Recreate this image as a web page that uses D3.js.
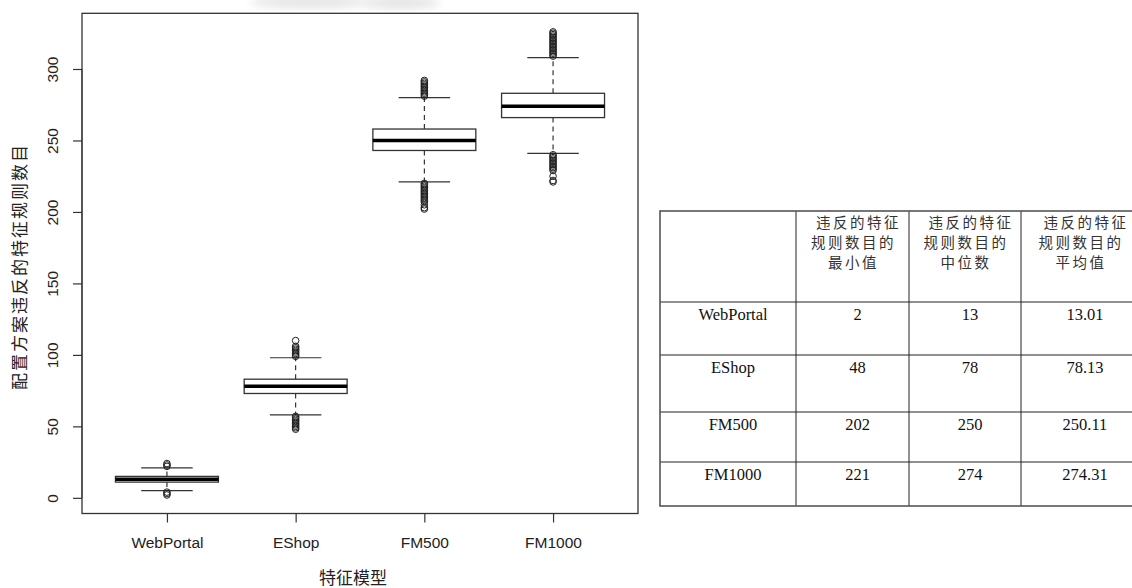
<!DOCTYPE html>
<html>
<head>
<meta charset="utf-8">
<script src="https://cdn.jsdelivr.net/npm/d3@7"></script>
<style>
  body { margin: 0; background: #fff; }
  svg { display: block; }
  .tick-lbl { font-family: "Liberation Sans", Arial, sans-serif; font-size: 15.5px; fill: #222; }
  .title { font-family: "Noto Sans CJK SC", sans-serif; font-size: 17px; fill: #222; }
  .cell { font-family: "Liberation Serif", "Times New Roman", serif; font-size: 16.5px; fill: #111; }
  .hdr { font-family: "Noto Sans CJK SC", sans-serif; font-size: 14.5px; letter-spacing: 2.5px; fill: #333; }
</style>
</head>
<body>
<svg id="chart"></svg>
<script>
// Data
const categories = ['WebPortal', 'EShop', 'FM500', 'FM1000']
const q1 = [11, 73, 243, 266]
const medians = [13, 78, 250, 274]
const q3 = [15, 83, 258, 283]
const whiskerLo = [5, 58, 221, 241]
const whiskerHi = [21, 98, 280, 308]
const outliers = [
    [2, 3, 4, 22, 23, 24],
    [48, 49, 50, 51, 52, 53, 54, 55, 56, 57, 99, 100, 101, 102, 103, 104, 105, 106, 110],
    [202, 203, 205, 207, 208, 209, 210, 211, 212, 213, 214, 215, 216, 217, 218, 219, 220,
     281, 282, 283, 284, 285, 286, 287, 288, 289, 290, 291, 292],
    [221, 222, 225, 229, 230, 231, 232, 233, 234, 235, 236, 237, 238, 239, 240,
     309, 310, 311, 312, 313, 314, 315, 316, 317, 318, 319, 320, 321, 322, 323, 324, 325, 326]
]
const yTicks = [0, 50, 100, 150, 200, 250, 300]
const xTitle = '特征模型'
const yTitle = '配置方案违反的特征规则数目'

// Table
const tblHeaders = [['违反的特征', '规则数目的', '最小值'], ['违反的特征', '规则数目的', '中位数'], ['违反的特征', '规则数目的', '平均值']]
const tblMin = ['2', '48', '202', '221']
const tblMedian = ['13', '78', '250', '274']
const tblMean = ['13.01', '78.13', '250.11', '274.31']

const W = 1132, H = 588
const plot = {left: 82, right: 638, top: 13.3, bottom: 513.5}

const svg = d3.select('#chart').attr('width', W).attr('height', H)

// faint smudge at the top (scan artefact)
const defs = svg.append('defs')
defs.append('filter').attr('id', 'blur').append('feGaussianBlur').attr('stdDeviation', 4)
const smudge = svg.append('g').attr('filter', 'url(#blur)').attr('fill', '#e4e4e4')
smudge.append('ellipse').attr('cx', 310).attr('cy', 2).attr('rx', 60).attr('ry', 6)
smudge.append('ellipse').attr('cx', 400).attr('cy', 3).attr('rx', 40).attr('ry', 6)

// Scales (R style: 4% padding)
const allVals = outliers.flat().concat(whiskerLo, whiskerHi)
const [vmin, vmax] = d3.extent(allVals)
const pad = (vmax - vmin) * 0.04
const y = d3.scaleLinear().domain([vmin - pad, vmax + pad]).range([plot.bottom, plot.top])
const x = d3.scaleLinear().domain([0.5 - 0.16, categories.length + 0.5 + 0.16]).range([plot.left, plot.right])
const step = x(2) - x(1)
const boxHalf = step * 0.4, capHalf = step * 0.2

/* Boxes */
const g = svg.append('g')
categories.forEach((c, i) => {
    const cx = x(i + 1)
    const grp = g.append('g')
    // whiskers
    grp.selectAll('.whisker').data([[q3[i], whiskerHi[i]], [q1[i], whiskerLo[i]]]).enter()
        .append('line')
        .attr('x1', cx).attr('x2', cx)
        .attr('y1', d => y(d[0])).attr('y2', d => y(d[1]))
        .attr('stroke', '#222').attr('stroke-width', 1.1).attr('stroke-dasharray', '5,4')
    // caps
    grp.selectAll('.cap').data([whiskerHi[i], whiskerLo[i]]).enter()
        .append('line')
        .attr('x1', cx - capHalf).attr('x2', cx + capHalf)
        .attr('y1', d => y(d)).attr('y2', d => y(d))
        .attr('stroke', '#333').attr('stroke-width', 1.2)
    // box
    grp.append('rect')
        .attr('x', cx - boxHalf).attr('width', boxHalf * 2)
        .attr('y', y(q3[i])).attr('height', y(q1[i]) - y(q3[i]))
        .attr('fill', '#fff').attr('stroke', '#333').attr('stroke-width', 1.3)
    // median
    grp.append('line')
        .attr('x1', cx - boxHalf).attr('x2', cx + boxHalf)
        .attr('y1', y(medians[i])).attr('y2', y(medians[i]))
        .attr('stroke', '#000').attr('stroke-width', 3.5)
    // outliers
    grp.selectAll('circle').data(outliers[i]).enter()
        .append('circle')
        .attr('cx', cx).attr('cy', d => y(d)).attr('r', 3.3)
        .attr('fill', 'none').attr('stroke', '#222').attr('stroke-width', 1)
})

/* Frame */
svg.append('rect')
    .attr('x', plot.left).attr('y', plot.top)
    .attr('width', plot.right - plot.left).attr('height', plot.bottom - plot.top)
    .attr('fill', 'none').attr('stroke', '#333').attr('stroke-width', 1.3)

/* Y axis */
const yAxis = svg.append('g').attr('transform', `translate(${plot.left},0)`)
    .call(d3.axisLeft(y).tickValues(yTicks).tickSize(9).tickPadding(0).tickFormat(d3.format('d')))
yAxis.select('.domain').attr('d', `M0,${y(0)}V${y(300)}`).attr('stroke', '#333')
yAxis.selectAll('.tick line').attr('stroke', '#333').attr('stroke-width', 1.2)
yAxis.selectAll('.tick text')
    .attr('class', 'tick-lbl')
    .attr('x', 0).attr('y', 0).attr('dy', '0.35em')
    .attr('text-anchor', 'middle')
    .attr('transform', `translate(-29,0) rotate(-90)`)

/* X axis */
const xAxis = svg.append('g').attr('transform', `translate(0,${plot.bottom})`)
    .call(d3.axisBottom(x).tickValues(d3.range(1, categories.length + 1)).tickSize(9).tickPadding(0)
        .tickFormat(d => categories[d - 1]))
xAxis.select('.domain').attr('d', `M${x(1)},0H${x(categories.length)}`).attr('stroke', '#333')
xAxis.selectAll('.tick line').attr('stroke', '#333').attr('stroke-width', 1.2)
xAxis.selectAll('.tick text').attr('class', 'tick-lbl').attr('y', 29).attr('dy', '0.35em')

/* Titles */
svg.append('text').attr('class', 'title')
    .attr('x', 353).attr('y', 578).attr('dy', '0.35em').attr('text-anchor', 'middle')
    .text(xTitle)
svg.append('text').attr('class', 'title')
    .attr('transform', `translate(20,${(plot.top + plot.bottom) / 2 + 3}) rotate(-90)`)
    .attr('dy', '0.35em').attr('text-anchor', 'middle').attr('letter-spacing', 2)
    .text(yTitle)

/* Table */
const colX = [660, 796, 909, 1021, 1139]
const rowY = [211, 302, 355, 412, 462, 506]
const tbl = svg.append('g')
tbl.selectAll('.vline').data(colX.slice(1, -1)).enter()
    .append('line')
    .attr('x1', d => d).attr('x2', d => d).attr('y1', rowY[0]).attr('y2', rowY[rowY.length - 1])
    .attr('stroke', '#222').attr('stroke-width', 1)
tbl.selectAll('.hline').data(rowY.slice(1, -1)).enter()
    .append('line')
    .attr('x1', colX[0]).attr('x2', colX[colX.length - 1]).attr('y1', d => d).attr('y2', d => d)
    .attr('stroke', '#222').attr('stroke-width', 1)
tbl.append('rect')
    .attr('x', colX[0]).attr('y', rowY[0])
    .attr('width', colX[colX.length - 1] - colX[0]).attr('height', rowY[rowY.length - 1] - rowY[0])
    .attr('fill', 'none').attr('stroke', '#555').attr('stroke-width', 1.6)

const colMid = i => (colX[i] + colX[i + 1]) / 2
tblHeaders.forEach((lines, j) => {
    tbl.selectAll(null).data(lines).enter()
        .append('text').attr('class', 'hdr')
        .attr('x', (d, k) => colMid(j + 1) + (k === 0 ? 6 : 1))
        .attr('y', (d, k) => 223 + k * 20).attr('dy', '0.35em')
        .attr('text-anchor', 'middle')
        .text(d => d)
})
const cols = [categories, tblMin, tblMedian, tblMean]
cols.forEach((vals, j) => {
    tbl.selectAll(null).data(vals).enter()
        .append('text').attr('class', 'cell')
        .attr('x', colMid(j) + 5)
        .attr('y', (d, i) => rowY[i + 1] + 12).attr('dy', '0.35em')
        .attr('text-anchor', 'middle')
        .text(d => d)
})
</script>
</body>
</html>
